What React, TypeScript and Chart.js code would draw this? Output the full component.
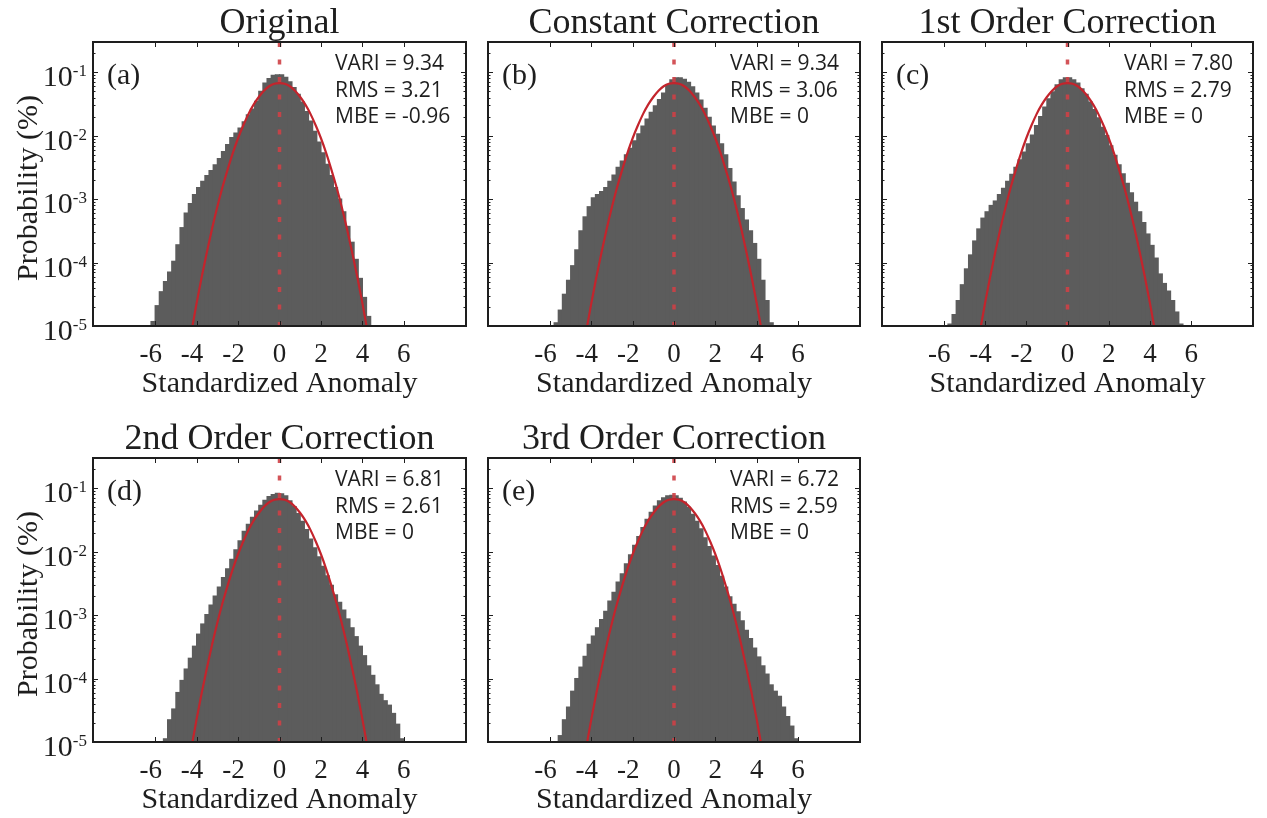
import React, { useEffect, useRef } from "react";
import { Chart, registerables } from "chart.js";

Chart.register(...registerables);

// ---- data ---------------------------------------------------------------

// Histogram bin centres (standardized anomaly, bin width 0.2)
const binCentres = [
  -6.3, -6.1, -5.9, -5.7, -5.5, -5.3, -5.1, -4.9, -4.7, -4.5, -4.3, -4.1, -3.9, -3.7, -3.5, -3.3,
  -3.1, -2.9, -2.7, -2.5, -2.3, -2.1, -1.9, -1.7, -1.5, -1.3, -1.1, -0.9, -0.7, -0.5, -0.3, -0.1,
  0.1, 0.3, 0.5, 0.7, 0.9, 1.1, 1.3, 1.5, 1.7, 1.9, 2.1, 2.3, 2.5, 2.7, 2.9, 3.1,
  3.3, 3.5, 3.7, 3.9, 4.1, 4.3, 4.5, 4.7, 4.9, 5.1, 5.3, 5.5, 5.7, 5.9, 6.1,
];

// log10 of the bin probability for each panel (null = empty bin)
const originalLog10 = [
  null, -4.93, -4.68, -4.46, -4.3, -4.15, -3.98, -3.72, -3.45, -3.22, -3.07, -2.93, -2.82, -2.72, -2.63, -2.55,
  -2.46, -2.36, -2.25, -2.14, -2.03, -1.96, -1.88, -1.78, -1.67, -1.58, -1.46, -1.3, -1.17, -1.1, -1.05, -1.04,
  -1.04, -1.08, -1.15, -1.24, -1.35, -1.47, -1.62, -1.77, -1.93, -2.1, -2.27, -2.45, -2.63, -2.82, -3.0, -3.2,
  -3.43, -3.68, -3.95, -4.25, -4.55, -4.85, null, null, null, null, null, null, null, null, null,
];
const constantLog10 = [
  null, null, null, -4.95, -4.75, -4.5, -4.28, -4.05, -3.8, -3.5, -3.28, -3.12, -2.98, -2.93, -2.88, -2.82,
  -2.72, -2.62, -2.5, -2.4, -2.3, -2.2, -2.08, -1.97, -1.85, -1.74, -1.63, -1.53, -1.43, -1.33, -1.2, -1.12,
  -1.09, -1.09, -1.11, -1.16, -1.23, -1.33, -1.44, -1.57, -1.71, -1.85, -1.98, -2.13, -2.3, -2.52, -2.73, -2.95,
  -3.15, -3.33, -3.5, -3.7, -3.95, -4.28, -4.6, -4.95, null, null, null, null, null, null, null,
];
const firstOrderLog10 = [
  null, null, null, -4.97, -4.82, -4.6, -4.35, -4.1, -3.88, -3.66, -3.47, -3.3, -3.2, -3.1, -3.03, -2.93,
  -2.83, -2.72, -2.61, -2.5, -2.38, -2.26, -2.13, -1.99, -1.84, -1.7, -1.55, -1.42, -1.31, -1.2, -1.12, -1.09,
  -1.09, -1.12, -1.17, -1.26, -1.35, -1.47, -1.59, -1.72, -1.87, -2.0, -2.16, -2.31, -2.46, -2.6, -2.75, -2.9,
  -3.05, -3.2, -3.37, -3.55, -3.73, -3.93, -4.18, -4.33, -4.45, -4.6, -4.78, -4.97, null, null, null,
];
const secondOrderLog10 = [
  null, null, null, null, -4.95, -4.65, -4.48, -4.22, -4.03, -3.85, -3.68, -3.49, -3.3, -3.14, -2.99, -2.84,
  -2.7, -2.56, -2.41, -2.27, -2.12, -1.97, -1.83, -1.68, -1.57, -1.46, -1.36, -1.27, -1.19, -1.13, -1.1, -1.08,
  -1.09, -1.12, -1.2, -1.29, -1.4, -1.52, -1.65, -1.8, -1.94, -2.08, -2.23, -2.38, -2.53, -2.68, -2.8, -2.92,
  -3.06, -3.2, -3.34, -3.49, -3.64, -3.8, -3.95, -4.1, -4.25, -4.35, -4.42, -4.55, -4.72, -4.95, null,
];
const thirdOrderLog10 = [
  null, null, null, null, -4.9, -4.65, -4.45, -4.2, -4.0, -3.82, -3.65, -3.46, -3.33, -3.2, -3.07, -2.94,
  -2.78, -2.64, -2.48, -2.35, -2.19, -2.05, -1.9, -1.76, -1.62, -1.49, -1.38, -1.28, -1.2, -1.15, -1.12, -1.11,
  -1.12, -1.16, -1.22, -1.3, -1.41, -1.52, -1.64, -1.78, -1.92, -2.07, -2.22, -2.39, -2.56, -2.71, -2.83, -2.95,
  -3.09, -3.24, -3.37, -3.52, -3.66, -3.8, -3.93, -4.1, -4.2, -4.28, -4.45, -4.6, -4.75, -4.95, null,
];

// Reference normal curve (same in every panel)
const normalX = [
  -4.25, -4, -3.75, -3.5, -3.25, -3, -2.75, -2.5, -2.25, -2, -1.75, -1.5, -1.25, -1, -0.75, -0.5, -0.25,
  0, 0.25, 0.5, 0.75, 1, 1.25, 1.5, 1.75, 2, 2.25, 2.5, 2.75, 3, 3.25, 3.5, 3.75, 4, 4.25,
];
const normalLog10 = [
  -5.09, -4.64, -4.22, -3.83, -3.46, -3.12, -2.81, -2.53, -2.27, -2.04, -1.84, -1.66, -1.51, -1.39, -1.29, -1.22, -1.18,
  -1.17, -1.18, -1.22, -1.29, -1.39, -1.51, -1.66, -1.84, -2.04, -2.27, -2.53, -2.81, -3.12, -3.46, -3.83, -4.22, -4.64, -5.09,
];

const panelTitles = [
  "Original",
  "Constant Correction",
  "1st Order Correction",
  "2nd Order Correction",
  "3rd Order Correction",
];
const panelLetters = ["(a)", "(b)", "(c)", "(d)", "(e)"];
const variValues = [9.34, 9.34, 7.8, 6.81, 6.72];
const rmsValues = [3.21, 3.06, 2.79, 2.61, 2.59];
const mbeValues = [-0.96, 0, 0, 0, 0];
const panelSeries = [originalLog10, constantLog10, firstOrderLog10, secondOrderLog10, thirdOrderLog10];

const xTicks = [-6, -4, -2, 0, 2, 4, 6];
const yDecades = [-1, -2, -3, -4, -5];
const X_MIN = -8;
const X_MAX = 8;
const Y_MIN = 1e-5;
const Y_MAX = 0.3;

// ---- layout -------------------------------------------------------------

const PAGE_W = 1267;
const PAGE_H = 818;
const plotBoxes = [
  { left: 93, top: 42, right: 466, bottom: 326, yLabels: true },
  { left: 488, top: 42, right: 860, bottom: 326, yLabels: false },
  { left: 882, top: 42, right: 1253, bottom: 326, yLabels: false },
  { left: 93, top: 458, right: 466, bottom: 742, yLabels: true },
  { left: 488, top: 458, right: 860, bottom: 742, yLabels: false },
];

const SERIF = '"Liberation Serif", "Times New Roman", serif';
const SANS = '"Open Sans", "Noto Sans", sans-serif';
const INK = "#1e1e1e";

// Frame, inward ticks and all panel text
const panelDecor = {
  id: "panelDecor",
  afterDraw(chart: any, _args: any, opts: any) {
    const { ctx, chartArea: a, scales } = chart;
    const xs = scales.x;
    const ys = scales.y;
    ctx.save();

    // inward tick marks
    ctx.strokeStyle = INK;
    ctx.lineWidth = 1;
    ctx.beginPath();
    for (const t of xTicks) {
      const px = Math.round(xs.getPixelForValue(t)) + 0.5;
      ctx.moveTo(px, a.bottom);
      ctx.lineTo(px, a.bottom - 5);
      ctx.moveTo(px, a.top);
      ctx.lineTo(px, a.top + 5);
    }
    for (const d of yDecades) {
      for (let m = 1; m <= 9; m++) {
        const v = m * Math.pow(10, d);
        if (v > Y_MAX) continue;
        const py = Math.round(ys.getPixelForValue(v)) + 0.5;
        const len = m === 1 ? 5 : 2.5;
        ctx.moveTo(a.left, py);
        ctx.lineTo(a.left + len, py);
        ctx.moveTo(a.right, py);
        ctx.lineTo(a.right - len, py);
      }
    }
    ctx.stroke();

    // frame
    ctx.lineWidth = 2;
    ctx.strokeRect(a.left, a.top, a.right - a.left, a.bottom - a.top);

    ctx.fillStyle = INK;
    const cx = (a.left + a.right) / 2;

    // title
    ctx.font = `36px ${SERIF}`;
    ctx.textAlign = "center";
    ctx.textBaseline = "alphabetic";
    ctx.fillText(opts.title, cx, a.top - 9);

    // x tick labels: digits centred on the tick, minus hanging left
    ctx.font = `27px ${SERIF}`;
    for (const t of xTicks) {
      const px = xs.getPixelForValue(t);
      const digits = String(Math.abs(t));
      const w = ctx.measureText(digits).width;
      ctx.textAlign = "center";
      ctx.fillText(digits, px, a.bottom + 36);
      if (t < 0) {
        ctx.textAlign = "right";
        ctx.fillText("-", px - w / 2, a.bottom + 36);
      }
    }

    // x axis title
    ctx.textAlign = "center";
    ctx.font = `30px ${SERIF}`;
    ctx.fillText("Standardized Anomaly", cx, a.bottom + 66);

    if (opts.yLabels) {
      for (const d of yDecades) {
        const py = ys.getPixelForValue(Math.pow(10, d));
        ctx.font = `17px ${SERIF}`;
        const exp = String(d);
        const ew = ctx.measureText(exp).width;
        const ex = a.left - 6 - ew;
        ctx.textAlign = "left";
        ctx.fillText(exp, ex, py + 4);
        ctx.font = `30px ${SERIF}`;
        ctx.textAlign = "right";
        ctx.fillText("10", ex, py + 14);
      }
      ctx.save();
      ctx.translate(37, (a.top + a.bottom) / 2 + 4);
      ctx.rotate(-Math.PI / 2);
      ctx.textAlign = "center";
      ctx.font = `30px ${SERIF}`;
      ctx.fillText("Probability (%)", 0, 0);
      ctx.restore();
    }

    // panel letter
    ctx.textAlign = "left";
    ctx.font = `30px ${SERIF}`;
    ctx.fillText(opts.letter, a.left + 14, a.top + 42);

    // statistics
    ctx.font = `21px ${SANS}`;
    const sx = a.left + 242;
    ctx.fillText(opts.stats[0], sx, a.top + 28);
    ctx.fillText(opts.stats[1], sx, a.top + 54.5);
    ctx.fillText(opts.stats[2], sx, a.top + 81);

    ctx.restore();
  },
};

function fmtMbe(v: number) {
  return v === 0 ? "0" : v.toFixed(2);
}

function Panel({ index }: { index: number }) {
  const ref = useRef<HTMLCanvasElement | null>(null);

  useEffect(() => {
    const canvas = ref.current;
    if (!canvas) return;
    const box = plotBoxes[index];
    const series = panelSeries[index];

    const bars: { x: number; y: number }[] = [];
    binCentres.forEach((x, i) => {
      const v = series[i];
      if (v !== null && v !== undefined) bars.push({ x, y: Math.pow(10, v) });
    });
    const curve = normalX.map((x, i) => ({ x, y: Math.pow(10, normalLog10[i]) }));
    const zeroLine = [
      { x: 0, y: Y_MAX },
      { x: 0, y: Y_MIN },
    ];

    const chart = new Chart(canvas, {
      type: "bar",
      data: {
        datasets: [
          {
            type: "line",
            data: zeroLine,
            borderColor: "rgba(206,64,70,0.9)",
            borderWidth: 3.5,
            borderDash: [5, 12.5],
            pointRadius: 0,
            order: 0,
          } as any,
          {
            type: "line",
            data: curve,
            borderColor: "#c3242c",
            borderWidth: 2.2,
            pointRadius: 0,
            cubicInterpolationMode: "monotone",
            order: 1,
          } as any,
          {
            type: "bar",
            data: bars,
            backgroundColor: "#5c5c5c",
            borderWidth: 0,
            inflateAmount: 0.6,
            barPercentage: 1,
            categoryPercentage: 1,
            order: 2,
          } as any,
        ],
      },
      options: {
        responsive: false,
        animation: false,
        events: [],
        layout: {
          padding: {
            left: box.left,
            top: box.top,
            right: PAGE_W - box.right,
            bottom: PAGE_H - box.bottom,
          },
        },
        scales: {
          x: { type: "linear", min: X_MIN, max: X_MAX, display: false },
          y: { type: "logarithmic", min: Y_MIN, max: Y_MAX, display: false },
        },
        plugins: {
          legend: { display: false },
          tooltip: { enabled: false },
          panelDecor: {
            title: panelTitles[index],
            letter: panelLetters[index],
            yLabels: box.yLabels,
            stats: [
              `VARI = ${variValues[index].toFixed(2)}`,
              `RMS = ${rmsValues[index].toFixed(2)}`,
              `MBE = ${fmtMbe(mbeValues[index])}`,
            ],
          },
        } as any,
      },
      plugins: [panelDecor],
    });

    return () => chart.destroy();
  }, [index]);

  return (
    <canvas
      ref={ref}
      width={PAGE_W}
      height={PAGE_H}
      style={{ position: "absolute", left: 0, top: 0, width: PAGE_W, height: PAGE_H }}
    />
  );
}

export default function App() {
  return (
    <div
      style={{
        position: "absolute",
        left: 0,
        top: 0,
        width: PAGE_W,
        height: PAGE_H,
        background: "#ffffff",
        overflow: "hidden",
      }}
    >
      {panelTitles.map((_, i) => (
        <Panel key={i} index={i} />
      ))}
    </div>
  );
}
